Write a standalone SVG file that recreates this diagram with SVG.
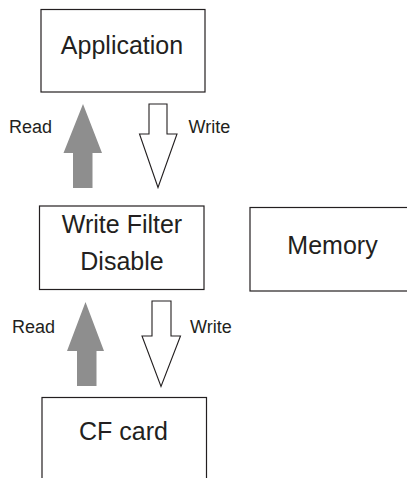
<svg xmlns="http://www.w3.org/2000/svg" width="407" height="478" viewBox="0 0 407 478">
<style>
.box{fill:#fff;stroke:#231f20;stroke-width:1.2}
.t{font-family:"Liberation Sans",Arial,sans-serif;fill:#231f20;text-anchor:middle}
.big{font-size:25px}
.lbl{font-size:18px;text-anchor:start}
.rd{fill:#8e8e8e;stroke:none}
.wr{fill:#fff;stroke:#231f20;stroke-width:1.1;stroke-linejoin:miter}
</style>
<rect width="407" height="478" fill="#fff"/>
<g id="application">
<rect class="box" x="41" y="9.5" width="164" height="82.5"/>
<text class="t big" x="122" y="54">Application</text>
</g>
<g id="write-filter">
<rect class="box" x="39.5" y="206" width="164.5" height="83.5"/>
<text class="t big" x="122" y="233">Write Filter</text>
<text class="t big" x="122" y="269.5">Disable</text>
</g>
<g id="memory">
<rect class="box" x="250" y="207.5" width="170" height="83.5"/>
<text class="t big" x="332.5" y="253.5">Memory</text>
</g>
<g id="cf-card">
<rect class="box" x="42" y="397.5" width="164.5" height="100"/>
<text class="t big" x="123.5" y="440">CF card</text>
</g>
<g id="connectors">
<polygon class="rd" points="83,104 102,153 92.5,153 92.5,188 73,188 73,153 63.5,153"/>
<polygon class="wr" points="149,104 167,104 167,134 177,134 158,187.5 139.5,134 149,134"/>
<text class="t lbl" x="9" y="133">Read</text>
<text class="t lbl" x="188.5" y="133">Write</text>
<polygon class="rd" points="85.5,302 104,351 96.5,351 96.5,386 77,386 77,351 67,351"/>
<polygon class="wr" points="152,301 171,301 171,336 180.5,336 161,386.5 142,336 152,336"/>
<text class="t lbl" x="12" y="332.5">Read</text>
<text class="t lbl" x="190" y="332.5">Write</text>
</g>
</svg>
